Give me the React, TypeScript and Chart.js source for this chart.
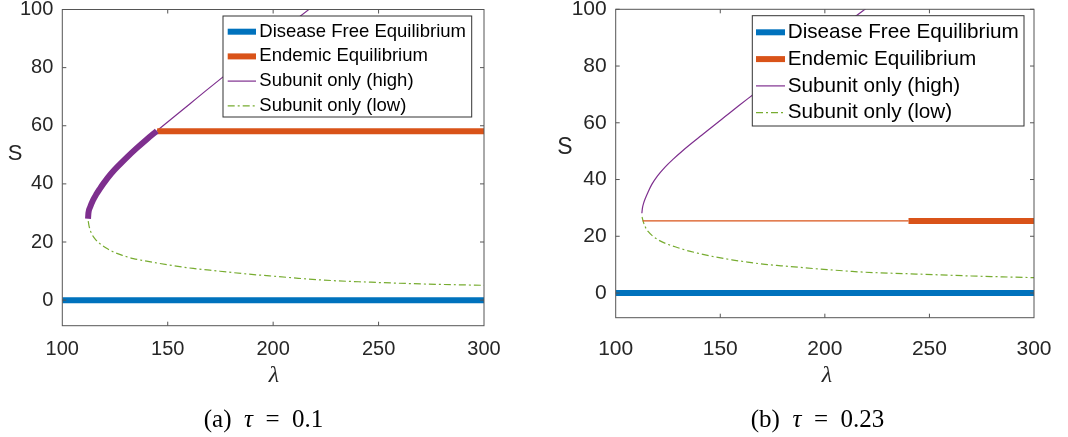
import React, { useEffect, useRef } from 'react';
import { Chart, registerables } from 'chart.js';

Chart.register(...registerables);

// ---------- shared axis / legend data ----------
const xTicks = [100, 150, 200, 250, 300];
const yTicks = [0, 20, 40, 60, 80, 100];
const legendLabels = [
  'Disease Free Equilibrium',
  'Endemic Equilibrium',
  'Subunit only (high)',
  'Subunit only (low)',
];

// ---------- panel (a): tau = 0.1 ----------
const aDfeLambda = [100, 300];
const aDfeS = [0, 0];
const aEndLambda = [145, 300];
const aEndS = [58.1, 58.1];
const aHighThickLambda = [112.2, 112.4, 113.2, 114.5, 116.2, 117.8, 119.4, 123, 127.4, 131, 135.3, 140, 144.8];
const aHighThickS = [28.0, 30, 32, 34.3, 36.5, 38.3, 40, 43.4, 46.8, 49.4, 52.3, 55.3, 58.2];
const aHighThinLambda = [144.8, 152, 160.6, 168, 176.4, 187, 197, 207, 217.5, 225];
const aHighThinS = [58.2, 62.5, 67.6, 72, 76.9, 83.0, 88.7, 94.4, 100.3, 104.4];
const aLowLambda = [112.3, 112.7, 113.9, 115.6, 117.9, 120.8, 124.2, 128.5, 133.7, 140, 146.3, 154, 162.1, 170, 178, 186, 193.8, 202.5, 212, 228.5, 245, 260, 280, 300];
const aLowS = [27.2, 25.5, 22.9, 21, 19.4, 17.9, 16.6, 15.4, 14.3, 13.4, 12.6, 11.7, 10.9, 10.3, 9.7, 9.1, 8.6, 8.1, 7.5, 6.7, 6.2, 5.8, 5.4, 5.1];

// ---------- panel (b): tau = 0.23 ----------
const bDfeLambda = [100, 300];
const bDfeS = [0, 0];
const bEndThickLambda = [240, 300];
const bEndThickS = [25.4, 25.4];
const bEndThinLambda = [112.9, 240];
const bEndThinS = [25.4, 25.4];
const bHighLambda = [112.5, 112.8, 113.4, 114.2, 115.5, 117.2, 120, 123.6, 127.5, 131.6, 136, 141.1, 146.5, 152.3, 158.8, 165.8, 174, 183, 192, 201, 210, 218.4, 225];
const bHighS = [28.1, 30.0, 31.8, 33.4, 35.6, 38.2, 41.3, 44.4, 47.2, 49.9, 52.6, 55.6, 58.8, 62.2, 66.0, 70.0, 74.7, 79.8, 84.9, 89.9, 94.9, 99.6, 103.2];
const bLowLambda = [112.6, 113.2, 114.2, 115.6, 117.8, 120.4, 124, 128.4, 133.5, 139.5, 147, 155.5, 163, 171.4, 179, 187.3, 195, 204, 213, 223.2, 239, 255, 270, 285, 300];
const bLowS = [26.8, 25.1, 23.2, 21.6, 20, 18.7, 17.4, 16.3, 15.1, 14, 12.8, 11.7, 10.9, 10.1, 9.6, 9.1, 8.6, 8.1, 7.6, 7.2, 6.8, 6.4, 6.0, 5.7, 5.4];

// ---------- styles ----------
const BLUE = '#0072BD';
const ORANGE = '#D95319';
const PURPLE = '#7E2F8E';
const GREEN = '#77AC30';
const SANS = '"Liberation Sans", Arial, Helvetica, sans-serif';
const SERIF = '"Liberation Serif", "Times New Roman", serif';

const pts = (xs: number[], ys: number[]) => xs.map((x, i) => ({ x, y: ys[i] }));

const line = (label: string, xs: number[], ys: number[], color: string, width: number, dash: number[] = []) => ({
  label,
  data: pts(xs, ys),
  borderColor: color,
  backgroundColor: color,
  borderWidth: width,
  borderDash: dash,
  pointRadius: 0,
  pointHoverRadius: 0,
  cubicInterpolationMode: 'monotone',
  fill: false,
  clip: 0,
});

const DASHDOT = [7, 3, 2, 3];

const framePlugin = {
  id: 'frameTicks',
  afterDatasetsDraw(chart: any) {
    const { ctx, chartArea: a, scales } = chart;
    ctx.save();
    ctx.strokeStyle = '#555555';
    ctx.lineWidth = 1;
    ctx.setLineDash([]);
    ctx.beginPath();
    xTicks.slice(1, -1).forEach((v) => {
      const px = scales.x.getPixelForValue(v);
      ctx.moveTo(px, a.bottom);
      ctx.lineTo(px, a.bottom - 4);
      ctx.moveTo(px, a.top);
      ctx.lineTo(px, a.top + 4);
    });
    yTicks.forEach((v) => {
      const py = scales.y.getPixelForValue(v);
      ctx.moveTo(a.left, py);
      ctx.lineTo(a.left + 4, py);
      ctx.moveTo(a.right, py);
      ctx.lineTo(a.right - 4, py);
    });
    ctx.stroke();
    ctx.strokeRect(a.left, a.top, a.right - a.left, a.bottom - a.top);
    ctx.restore();
  },
};

const legendPlugin = {
  id: 'boxLegend',
  afterDraw(chart: any, _args: any, o: any) {
    const { ctx } = chart;
    ctx.save();
    ctx.fillStyle = '#ffffff';
    ctx.fillRect(o.bx, o.by, o.bw, o.bh);
    ctx.strokeStyle = '#333333';
    ctx.lineWidth = 1;
    ctx.setLineDash([]);
    ctx.strokeRect(o.bx, o.by, o.bw, o.bh);
    ctx.font = `${o.fontSize}px ${SANS}`;
    ctx.textBaseline = 'middle';
    ctx.textAlign = 'left';
    (o.items as number[]).forEach((dsIndex: number, i: number) => {
      const ds = chart.data.datasets[dsIndex];
      const y = o.rowY + i * o.rowStep;
      ctx.beginPath();
      ctx.setLineDash(ds.borderDash || []);
      ctx.lineWidth = ds.borderWidth;
      ctx.strokeStyle = ds.borderColor;
      ctx.moveTo(o.sx0, y);
      ctx.lineTo(o.sx1, y);
      ctx.stroke();
      ctx.setLineDash([]);
      ctx.fillStyle = '#000000';
      ctx.fillText(legendLabels[i], o.tx, y);
    });
    ctx.restore();
  },
};

const zeroPad = (s: any) => {
  s.paddingLeft = 0;
  s.paddingRight = 0;
  s.paddingTop = 0;
  s.paddingBottom = 0;
};

type PanelProps = {
  left: number;
  datasets: any[];
  yMin: number;
  axisW: number;
  axisH: number;
  padTop: number;
  padRight: number;
  tickFont: number;
  xPad: number;
  legend: any;
};

function Panel({ left, datasets, yMin, axisW, axisH, padTop, padRight, tickFont, xPad, legend }: PanelProps) {
  const ref = useRef<HTMLCanvasElement>(null);
  useEffect(() => {
    const chart = new Chart(ref.current as HTMLCanvasElement, {
      type: 'line',
      data: { datasets },
      options: {
        responsive: false,
        animation: false,
        events: [],
        layout: { padding: { left: 0, top: padTop, right: padRight, bottom: 0 } },
        plugins: {
          legend: { display: false },
          tooltip: { enabled: false },
          title: { display: false },
          boxLegend: legend,
        } as any,
        scales: {
          x: {
            type: 'linear',
            min: 100,
            max: 300,
            grid: { display: false, drawTicks: false },
            border: { display: false },
            afterBuildTicks: (s: any) => {
              s.ticks = xTicks.map((v) => ({ value: v }));
            },
            afterFit: (s: any) => {
              s.height = axisH;
              zeroPad(s);
            },
            ticks: {
              autoSkip: false,
              maxRotation: 0,
              padding: xPad,
              color: '#262626',
              font: { family: SANS, size: tickFont },
            },
          },
          y: {
            type: 'linear',
            min: yMin,
            max: 100,
            grid: { display: false, drawTicks: false },
            border: { display: false },
            afterBuildTicks: (s: any) => {
              s.ticks = yTicks.map((v) => ({ value: v }));
            },
            afterFit: (s: any) => {
              s.width = axisW;
              zeroPad(s);
            },
            ticks: {
              autoSkip: false,
              padding: 9,
              color: '#262626',
              font: { family: SANS, size: tickFont },
            },
          },
        },
      } as any,
      plugins: [framePlugin, legendPlugin],
    });
    return () => chart.destroy();
  }, []);
  return <canvas ref={ref} width={534} height={437} style={{ position: 'absolute', left, top: 0 }} />;
}

const textStyle = (x: number, y: number, font: string, w = 200): React.CSSProperties => ({
  position: 'absolute',
  left: x - w / 2,
  top: y - 15,
  width: w,
  height: 30,
  lineHeight: '30px',
  textAlign: 'center',
  font,
  color: '#262626',
  whiteSpace: 'pre',
});

export default function App() {
  // dataset order: first is drawn on top
  const aSets = [
    line(legendLabels[0], aDfeLambda, aDfeS, BLUE, 6),
    line(legendLabels[2], aHighThickLambda, aHighThickS, PURPLE, 6),
    line(legendLabels[1], aEndLambda, aEndS, ORANGE, 6),
    line(legendLabels[2], aHighThinLambda, aHighThinS, PURPLE, 1.2),
    line(legendLabels[3], aLowLambda, aLowS, GREEN, 1.2, DASHDOT),
  ];
  const bSets = [
    line(legendLabels[0], bDfeLambda, bDfeS, BLUE, 6),
    line(legendLabels[1], bEndThickLambda, bEndThickS, ORANGE, 6),
    line(legendLabels[1], bEndThinLambda, bEndThinS, ORANGE, 1.2),
    line(legendLabels[2], bHighLambda, bHighS, PURPLE, 1.2),
    line(legendLabels[3], bLowLambda, bLowS, GREEN, 1.2, DASHDOT),
  ];
  const aLegend = { bx: 223, by: 16, bw: 248.7, bh: 101, rowY: 31.7, rowStep: 24.7, sx0: 227.7, sx1: 256, tx: 259.3, fontSize: 18.5, items: [0, 2, 3, 4] };
  const bLegend = { bx: 218.3, by: 15.7, bw: 271.7, bh: 110.3, rowY: 32.3, rowStep: 26.8, sx0: 222, sx1: 251, tx: 253.7, fontSize: 20.7, items: [0, 1, 3, 4] };

  return (
    <div style={{ position: 'absolute', left: 0, top: 0, width: 1068, height: 437, background: '#fff', overflow: 'hidden' }}>
      <Panel left={0} datasets={aSets} yMin={-8.8} axisW={62.3} axisH={111.3} padTop={9.5} padRight={50} tickFont={20} xPad={12} legend={aLegend} />
      <Panel left={534} datasets={bSets} yMin={-8.7} axisW={81.7} axisH={119.3} padTop={9.3} padRight={34} tickFont={21} xPad={19} legend={bLegend} />
      <div style={textStyle(15, 155, `22px ${SANS}`, 40)}>S</div>
      <div style={textStyle(565, 148, `23px ${SANS}`, 40)}>S</div>
      <div style={textStyle(274, 376, `italic 24px ${SERIF}`, 40)}>λ</div>
      <div style={textStyle(827, 376, `italic 24px ${SERIF}`, 40)}>λ</div>
      <div style={{ ...textStyle(263.5, 420, `25px ${SERIF}`, 300), color: '#000' }}>
        (a)  <i>τ</i>  =  0.1
      </div>
      <div style={{ ...textStyle(817.5, 420, `25px ${SERIF}`, 300), color: '#000' }}>
        (b)  <i>τ</i>  =  0.23
      </div>
    </div>
  );
}
